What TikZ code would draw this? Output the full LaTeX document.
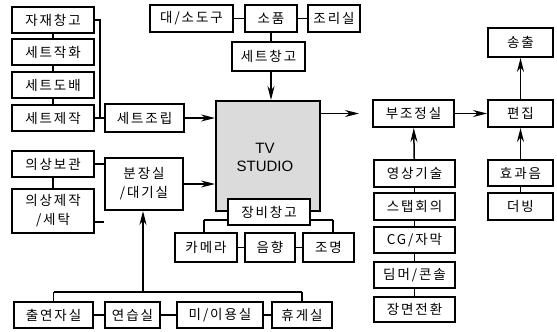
\documentclass[tikz,border=0pt]{standalone}
\usepackage{fontspec}
\setmainfont{Noto Sans CJK KR}[LetterSpace=14]
\newfontfamily\latinf{Liberation Sans}
\usetikzlibrary{arrows.meta}
\newcommand\bx[6]{\node[box, minimum width=#4pt, minimum height=#5pt] (#1) at (#2,#3) {#6};}
\begin{document}
\begin{tikzpicture}[x=1pt,y=-1pt,
  box/.style={draw, line width=2pt, fill=white, inner sep=0pt, align=center, font=\fontsize{13.5}{19}\selectfont},
  con/.style={line width=1.5pt},
  arr/.style={con, -{Stealth[length=14pt,width=7pt]}}]
\useasboundingbox (0,0) rectangle (557,332);
% brackets drawn first (behind boxes)
\coordinate (jA) at (100,118);
\coordinate (jD1) at (53.5,292);
\coordinate (jD4) at (302,292);
\coordinate (jDm) at (143,292);
\coordinate (jE1) at (204,220);
\coordinate (jE3) at (333,220);
\draw[con] (jE1) -- (jE3);
\draw[con] (jD1) -- (jD4);
% studio
\node[box, fill=gray!28, minimum width=104pt, minimum height=110pt] (S) at (268,156) {};
\node[font=\latinf\fontsize{15}{18}\selectfont, align=center] (stt) at (265,157) {TV\\STUDIO};
% left column
\bx{A1}{53}{20}{82}{26}{자재창고}
\bx{A2}{53}{52}{82}{26}{세트작화}
\bx{A3}{53}{85}{82}{26}{세트도배}
\bx{A4}{53}{118}{82}{26}{세트제작}
\bx{A5}{144.5}{118}{79}{28}{세트조립}
% top
\bx{B1}{191.5}{18.5}{83}{27}{대/소도구}
\bx{B2}{271}{18.5}{52}{27}{소품}
\bx{B3}{334}{18.5}{52}{27}{조리실}
\bx{B4}{268.5}{56.5}{73}{29}{세트창고}
% equipment
\bx{E}{269}{212}{82}{26}{장비창고}
\bx{E1}{206}{247.5}{62}{29}{카메라}
\bx{E2}{270}{247.5}{50}{29}{음향}
\bx{E3}{328.5}{247.5}{51}{29}{조명}
% costume
\bx{C1}{53}{164}{82}{26}{의상보관}
\bx{C2}{53}{211}{82}{44}{의상제작\\/세탁}
\bx{C3}{144}{184}{78}{52}{분장실\\/대기실}
% bottom row
\bx{D1}{53.5}{315}{79}{26}{출연자실}
\bx{D2}{132.5}{315}{55}{26}{연습실}
\bx{D3}{220}{315}{86}{26}{미/이용실}
\bx{D4}{302}{315}{60}{26}{휴게실}
% right
\bx{R1}{413.5}{113.5}{81}{27}{부조정실}
\bx{R2}{520.5}{113.5}{65}{27}{편집}
\bx{R3}{520.5}{42.5}{65}{29}{송출}
\bx{F1}{414.5}{173.5}{81}{27}{영상기술}
\bx{F2}{414.5}{206.5}{81}{27}{스탭회의}
\bx{F3}{414.5}{240}{81}{26}{CG/자막}
\bx{F4}{414.5}{275}{81}{26}{딤머/콘솔}
\bx{F5}{414.5}{309.5}{81}{25}{장면전환}
\bx{G1}{520.5}{173}{65}{26}{효과음}
\bx{G2}{520.5}{206.5}{65}{27}{더빙}
% connectors
\draw[con] (A1) -- (A2);
\draw[con] (A2) -- (A3);
\draw[con] (A3) -- (A4);
\draw[con] (A1.east) -| (jA);
\draw[con] (A4) -- (A5);
\draw[arr] (A5.east) -- (A5.east -| S.west);
\draw[con] (B1) -- (B2);
\draw[con] (B2) -- (B3);
\draw[con] (B2.south) -- (B2.south |- B4.north);
\draw[arr] (B2.south |- B4.south) -- (B2.south |- S.north);
\draw[con] (C1) -- (C2);
\draw[con] (C1.east) -- (C1.east -| C3.west);
\draw[con] ([yshift=-11pt]C2.east) -- ([yshift=-11pt]C2.east -| C3.west);
\draw[arr] (C3.east) -- (C3.east -| S.west);
\draw[con] (D1.north) -- (jD1);
\draw[con] (D4.north) -- (jD4);
\draw[arr] (jDm) -- (jDm |- C3.south);
\draw[con] (D1) -- (D2);
\draw[con] (D2) -- (D3);
\draw[con] (D3) -- (D4);
\draw[con] (E1.north -| jE1) -- (jE1);
\draw[con] (E3.north -| jE3) -- (jE3);
\draw[con] (E1) -- (E2);
\draw[con] (E2) -- (E3);
\draw[arr, shorten >=13pt] (S.east |- R1.west) -- (R1.west);
\draw[arr] (R1) -- (R2);
\draw[arr] (R2) -- (R3);
\draw[arr] (F1) -- (R1);
\draw[con] (F1) -- (F2);
\draw[con] (F2) -- (F3);
\draw[con] (F3) -- (F4);
\draw[con] (F4) -- (F5);
\draw[arr] (G1) -- (R2);
\draw[con] (G1) -- (G2);
\end{tikzpicture}
\end{document}
